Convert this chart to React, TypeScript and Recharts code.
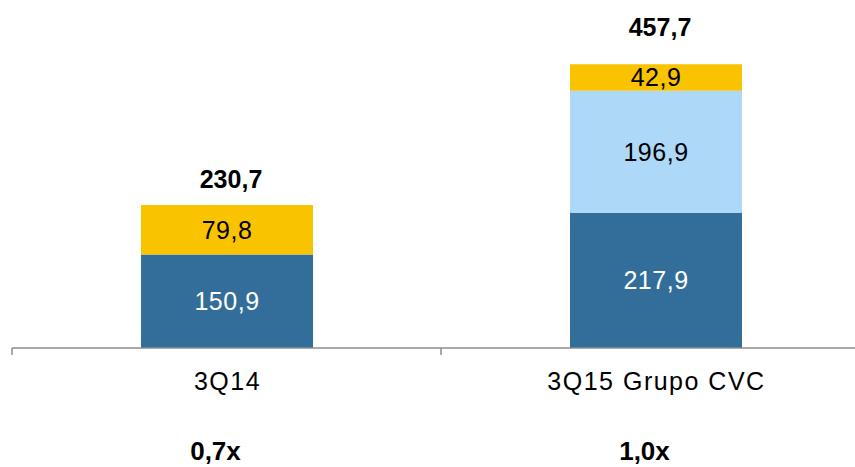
import React from 'react';
import { BarChart, Bar, XAxis, YAxis, LabelList } from 'recharts';

const categories = ['3Q14', '3Q15 Grupo CVC'];
const baseValues = [150.9, 217.9];
const cvcValues = [0, 196.9];
const topValues = [79.8, 42.9];
const totals = ['230,7', '457,7'];
const multiples = ['0,7x', '1,0x'];

const data = categories.map((name, i) => ({
  name,
  base: baseValues[i],
  cvc: cvcValues[i],
  top: topValues[i],
  total: totals[i],
  multiple: multiples[i],
}));

const FONT = '"Liberation Sans", Arial, sans-serif';
const fmt = (v: any) => (v ? String(v).replace('.', ',') : '');
const totalOffsets = [17, 28];

const CategoryTick = ({ x, y, payload, index }: any) => (
  <g>
    <line x1={x - 214.5} y1={y - 8} x2={x - 214.5} y2={y - 1} stroke="#8c8c8c" strokeWidth={1.5} />
    <text x={x + 1} y={y + 34} textAnchor="middle" fontSize={25} letterSpacing={1.5} fontFamily={FONT} fill="#000">
      {payload.value}
    </text>
    <text x={x - 11} y={y + 104} textAnchor="middle" fontSize={26} fontWeight="bold" fontFamily={FONT} fill="#000">
      {multiples[index]}
    </text>
  </g>
);

const TotalLabel = ({ x, y, width, index }: any) => (
  <text
    x={x + width / 2 + 4}
    y={y - totalOffsets[index]}
    textAnchor="middle"
    fontSize={25}
    fontWeight="bold"
    fontFamily={FONT}
    fill="#000"
  >
    {totals[index]}
  </text>
);

const valueLabel = { fontSize: 25, fontFamily: FONT, letterSpacing: 0.5 };

export default function App() {
  return (
    <div style={{ position: 'absolute', left: 0, top: 0, width: 855, height: 467, overflow: 'hidden', background: '#fff' }}>
      <BarChart
        width={870}
        height={467}
        data={data}
        margin={{ top: 38, right: 0, left: 12, bottom: 0 }}
        barSize={172}
      >
        <XAxis
          dataKey="name"
          height={119}
          axisLine={{ stroke: '#8c8c8c', strokeWidth: 1.5 }}
          tickLine={false}
          tick={<CategoryTick />}
          interval={0}
        />
        <YAxis hide domain={[0, 500]} />
        <Bar dataKey="base" stackId="a" fill="#336e9b" isAnimationActive={false}>
          <LabelList dataKey="base" position="center" formatter={fmt} fill="#fff" {...valueLabel} />
        </Bar>
        <Bar dataKey="cvc" stackId="a" fill="#add8f8" isAnimationActive={false}>
          <LabelList dataKey="cvc" position="center" formatter={fmt} fill="#000" {...valueLabel} />
        </Bar>
        <Bar dataKey="top" stackId="a" fill="#f9c300" isAnimationActive={false}>
          <LabelList dataKey="top" position="center" formatter={fmt} fill="#000" {...valueLabel} />
          <LabelList dataKey="total" content={<TotalLabel />} />
        </Bar>
      </BarChart>
    </div>
  );
}
